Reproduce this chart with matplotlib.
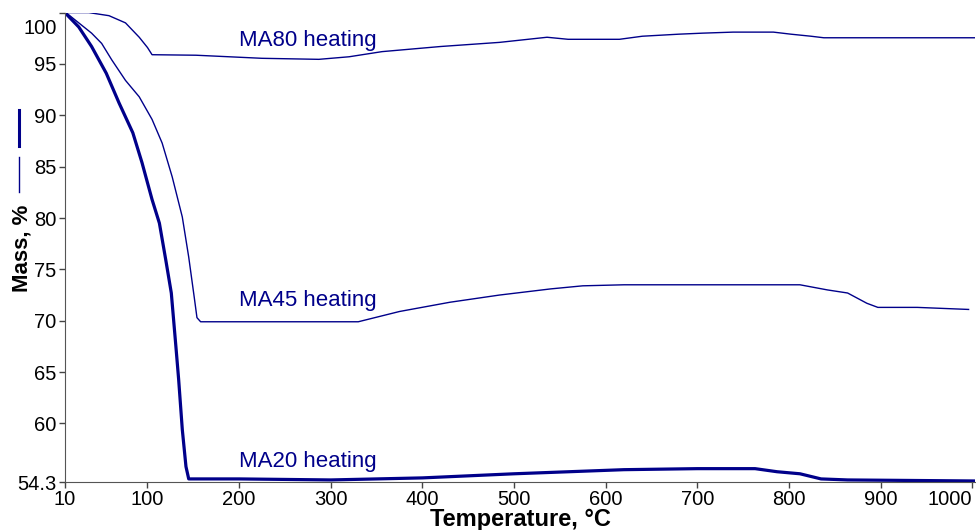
import matplotlib
matplotlib.use("Agg")
import matplotlib.pyplot as plt
import matplotlib.transforms as mtransforms
from matplotlib.lines import Line2D

plt.rcParams["font.family"] = ["Liberation Sans", "DejaVu Sans"]

# TGA heating curves, mass (%) vs temperature (°C)
ma20_t = [11, 25, 39, 55, 69, 84, 94, 105, 113, 120, 126, 131, 134, 138, 142, 145,
          200, 300, 350, 400, 450, 500, 560, 620, 700, 763, 787, 812, 835, 864, 1003]
ma20_m = [99.9, 98.6, 96.7, 94.1, 91.2, 88.3, 85.4, 81.8, 79.5, 75.9, 72.7, 67.5, 64.3,
          59.4, 55.8, 54.6, 54.6, 54.5, 54.6, 54.7, 54.9, 55.1, 55.3, 55.5, 55.6, 55.6,
          55.3, 55.1, 54.6, 54.5, 54.4]

ma45_t = [11, 25, 39, 50, 61, 76, 91, 105, 116, 127, 138, 145, 151, 154, 158, 200, 300,
          330, 375, 430, 484, 540, 575, 620, 812, 842, 864, 885, 897, 940, 996]
ma45_m = [100, 99.0, 98.0, 97.0, 95.4, 93.4, 91.8, 89.6, 87.3, 84.0, 80.1, 76.2, 72.3,
          70.3, 69.9, 69.9, 69.9, 69.9, 70.9, 71.8, 72.5, 73.1, 73.4, 73.5, 73.5, 73.0,
          72.7, 71.7, 71.3, 71.3, 71.1]

ma80_t = [11, 36, 58, 76, 91, 100, 105, 153, 189, 225, 287, 320, 356, 420, 484, 536,
          559, 615, 640, 680, 706, 739, 783, 802, 824, 838, 1003]
ma80_m = [100, 100, 99.7, 99.0, 97.6, 96.6, 95.9, 95.85, 95.7, 95.55, 95.45, 95.7, 96.2,
          96.7, 97.1, 97.6, 97.4, 97.4, 97.7, 97.9, 98.0, 98.1, 98.1, 97.9, 97.7, 97.55,
          97.55]

labels = ["MA80 heating", "MA45 heating", "MA20 heating"]
label_y = [97.3, 72.0, 56.3]

x_ticks = [10, 100, 200, 300, 400, 500, 600, 700, 800, 900, 1000]
y_ticks = [54.3, 60, 65, 70, 75, 80, 85, 90, 95, 100]
y_ticklabels = ["54.3", "60", "65", "70", "75", "80", "85", "90", "95", "100"]

color = "#00008a"

fig = plt.figure(figsize=(9.76, 5.30), dpi=100)
ax = fig.add_axes([65 / 976, 48 / 530, 910 / 976, 469.4 / 530])

ax.plot(ma80_t, ma80_m, color=color, lw=1.0)
ax.plot(ma45_t, ma45_m, color=color, lw=1.0)
ax.plot(ma20_t, ma20_m, color=color, lw=2.3)

for text, y in zip(labels, label_y):
    ax.text(200, y, text, color=color, fontsize=16, va="center", ha="left")

ax.set_xlim(10, 1003)
ax.set_ylim(54.3, 100)
ax.set_xticks(x_ticks)
ax.set_yticks(y_ticks)
ax.set_yticklabels(y_ticklabels)
ax.tick_params(labelsize=14.5, length=4, width=1, color="#444444", pad=2)

for side in ["top", "right"]:
    ax.spines[side].set_visible(False)
for side in ["left", "bottom"]:
    ax.spines[side].set_color("#555555")

# keep edge labels inside the figure
ax.get_xticklabels()[-1].set_ha("right")
top_label = ax.get_yticklabels()[-1]
top_label.set_va("top")
top_label.set_transform(top_label.get_transform()
                        + mtransforms.ScaledTranslation(0, -6 / 100, fig.dpi_scale_trans))

ax.set_xlabel("Temperature, °C", fontsize=17, fontweight="bold", labelpad=-1)
fig.text(22 / 976, 1 - 248 / 530, "Mass, %", rotation=90, fontsize=16,
         fontweight="bold", ha="center", va="center")

# small line keys beside the y label
fig.add_artist(Line2D([19 / 976, 19 / 976], [1 - 110 / 530, 1 - 146 / 530],
                      color=color, lw=2.2))
fig.add_artist(Line2D([19 / 976, 19 / 976], [1 - 157 / 530, 1 - 192 / 530],
                      color=color, lw=1.0))

fig.savefig("out.png", dpi=100)
